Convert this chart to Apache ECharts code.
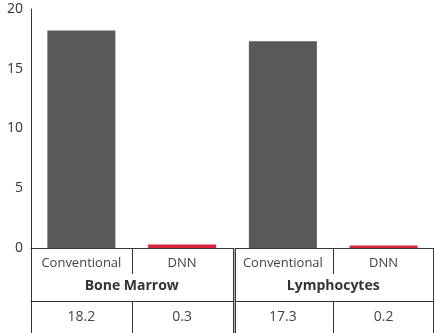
<!DOCTYPE html>
<html>
<head>
<meta charset="utf-8">
<script src="https://cdn.jsdelivr.net/npm/echarts@6/dist/echarts.min.js"></script>
<style>html,body{margin:0;padding:0;background:#fff}#c{width:434px;height:333px}</style>
</head>
<body>
<div id="c"></div>
<script>
const methods = ['Conventional', 'DNN', 'Conventional', 'DNN'];
const groups = ['Bone Marrow', 'Lymphocytes'];
const conventional = [18.2, '-', 17.3, '-'];
const dnn = ['-', 0.3, '-', 0.2];
const tableValues = ['18.2', '0.3', '17.3', '0.2'];
const yTicks = [0, 5, 10, 15, 20];

const font = '"Open Sans", sans-serif';
const dark = '#333';
const chart = echarts.init(document.getElementById('c'));
const odd = function (i) { return i % 2 === 1; };
const hidden = { axisLine: { show: false }, axisLabel: { show: false }, splitLine: { show: false } };
chart.setOption({
  animation: false,
  grid: [
    { left: 31, top: 9, right: -4, bottom: 85 },
    { left: 234.5, top: 9, right: -4, bottom: 85 }
  ],
  yAxis: [
    {
      type: 'value', gridIndex: 0, min: yTicks[0], max: yTicks[yTicks.length - 1], interval: 5,
      axisLine: { show: true, lineStyle: { color: dark, width: 1 } },
      axisTick: { show: false },
      splitLine: { show: false },
      axisLabel: { fontFamily: font, fontSize: 14, color: dark, margin: 8 }
    },
    Object.assign({ type: 'value', gridIndex: 1, min: 0, max: 20, axisTick: { show: false } }, hidden)
  ],
  xAxis: [
    {
      type: 'category', gridIndex: 0, data: methods, position: 'bottom',
      axisLine: { show: true, lineStyle: { color: dark, width: 1 } },
      axisTick: { show: true, length: 26, lineStyle: { color: dark }, interval: odd },
      axisLabel: { interval: 0, hideOverlap: false, fontFamily: font, fontSize: 13, color: '#444', margin: 9 }
    },
    {
      type: 'category', gridIndex: 0, data: groups, position: 'bottom',
      axisLine: { show: false },
      axisTick: { show: true, length: 85, lineStyle: { color: dark, width: 1 }, interval: function (i) { return i === 0; } },
      axisLabel: { interval: 0, fontFamily: font, fontSize: 14, fontWeight: 'bold', color: dark, margin: 31 }
    },
    {
      type: 'category', gridIndex: 0, data: tableValues, position: 'bottom', offset: 53,
      axisLine: { show: true, lineStyle: { color: dark, width: 1 } },
      axisTick: { show: true, length: 33, lineStyle: { color: dark }, interval: odd },
      axisLabel: { interval: 0, fontFamily: font, fontSize: 14, color: '#444', margin: 9 }
    },
    Object.assign({
      type: 'category', gridIndex: 1, data: [groups[1]], position: 'bottom',
      axisTick: { show: true, length: 85, lineStyle: { color: '#3a3a3a', width: 3 } }
    }, hidden),
    Object.assign({
      type: 'category', gridIndex: 1, data: [groups[1]], position: 'bottom',
      axisTick: { show: true, length: 85, lineStyle: { color: '#b0b0b0', width: 1 } }
    }, hidden)
  ],
  series: [
    { type: 'bar', name: 'Conventional', data: conventional, stack: 's', barWidth: 68, xAxisIndex: 0, yAxisIndex: 0, itemStyle: { color: '#595959' } },
    { type: 'bar', name: 'DNN', data: dnn, stack: 's', barWidth: 68, xAxisIndex: 0, yAxisIndex: 0, itemStyle: { color: '#d9233a' } }
  ]
});
</script>
</body>
</html>
